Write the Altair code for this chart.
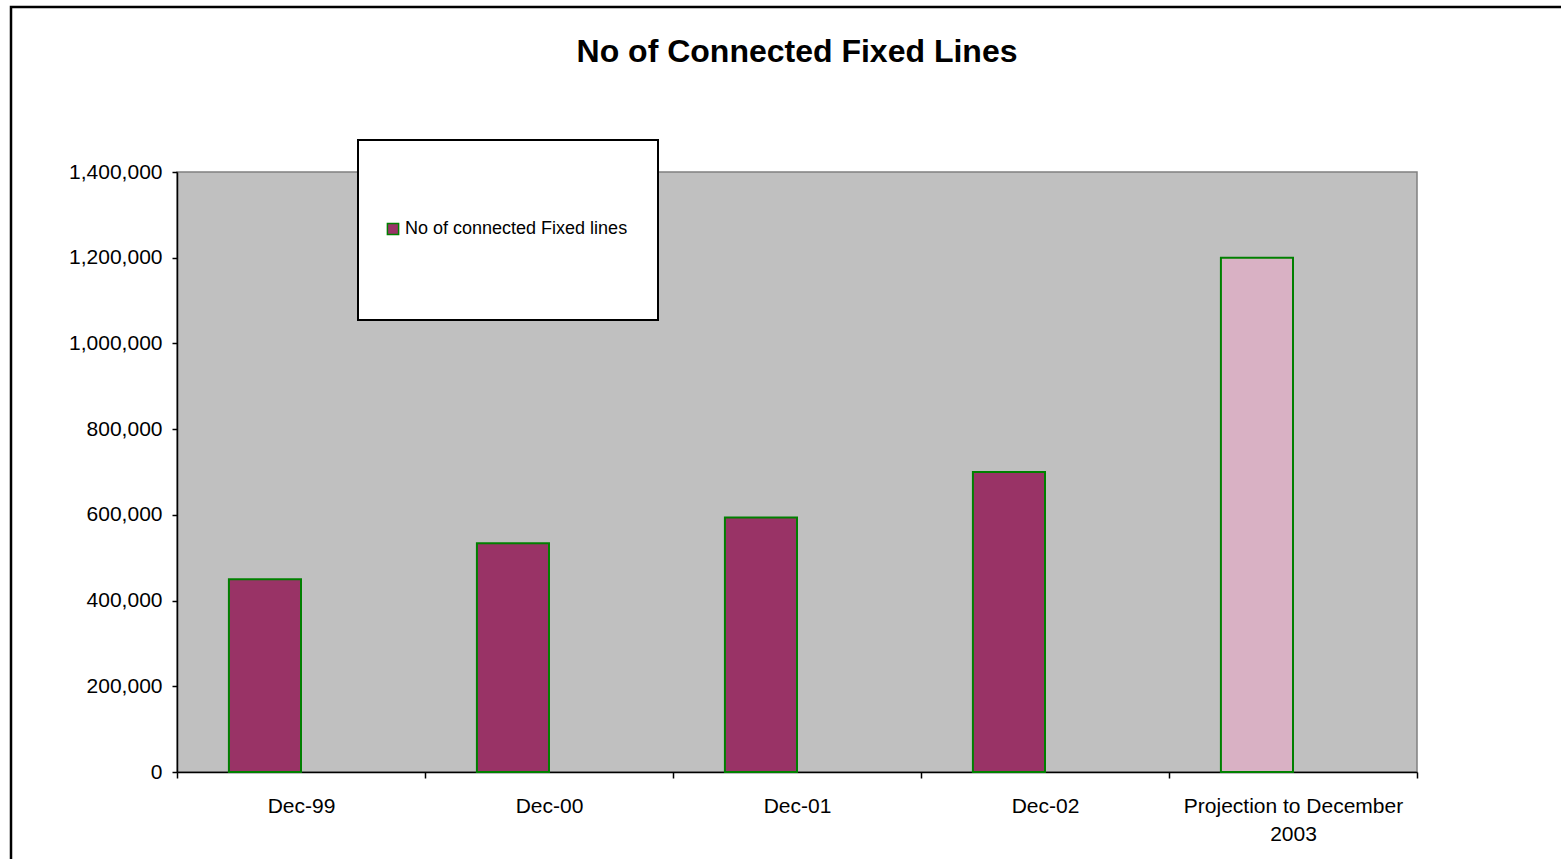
import altair as alt
import pandas as pd

categories = ["Dec-99", "Dec-00", "Dec-01", "Dec-02", "Projection to December 2003"]
values = [450000, 534000, 594000, 700000, 1200000]
series = ["No of connected Fixed lines"] * 4 + ["Projection"]
slot = ["s1"] * 5
y_ticks = [0, 200000, 400000, 600000, 800000, 1000000, 1200000, 1400000]

df = pd.DataFrame({"category": categories, "value": values, "series": series, "slot": slot})

FONT = "Liberation Sans"

bars = alt.Chart(df).mark_bar(stroke="#008000", strokeWidth=2).encode(
    x=alt.X(
        "category:N",
        sort=categories,
        scale=alt.Scale(paddingInner=0, paddingOuter=0),
        axis=alt.Axis(
            title=None, labelAngle=0, tickBand="extent", tickSize=6, tickWidth=1.5,
            domainWidth=1.5, domainColor="black", tickColor="black",
            labelPadding=17, labelFontSize=21, labelLineHeight=28, labelFont=FONT,
            labelColor="black", labelLimit=500, labelOverlap=False,
            labelExpr="datum.label == 'Projection to December 2003' ? ['Projection to December', '2003'] : datum.label",
        ),
    ),
    xOffset=alt.XOffset(
        "slot:N", scale=alt.Scale(domain=["s1", "s2"], paddingInner=0, paddingOuter=0.72)
    ),
    y=alt.Y(
        "value:Q",
        scale=alt.Scale(domain=[0, 1400000], nice=False),
        axis=alt.Axis(
            title=None, values=y_ticks, format=",d", grid=False, tickSize=5, tickWidth=1.5,
            domainWidth=1.5, domainColor="black", tickColor="black",
            labelPadding=10, labelFontSize=21, labelFont=FONT, labelColor="black",
        ),
    ),
    color=alt.Color(
        "series:N",
        scale=alt.Scale(domain=["No of connected Fixed lines", "Projection"],
                        range=["#993366", "#D9B1C4"]),
        legend=alt.Legend(
            values=["No of connected Fixed lines"], title=None, orient="none",
            legendX=207, legendY=48, padding=0, symbolType="square", symbolSize=125,
            symbolStrokeColor="#008000", symbolStrokeWidth=1.5, labelFontSize=18,
            labelFont=FONT, labelColor="black", labelOffset=3, labelLimit=400,
        ),
    ),
)

legend_box = alt.Chart(alt.Data(values=[{}])).mark_rect(
    fill="white", stroke="black", strokeWidth=2
).encode(x=alt.value(181), x2=alt.value(481), y=alt.value(-32), y2=alt.value(148))

frame = alt.Chart(alt.Data(values=[{}])).mark_rect(
    filled=False, stroke="black", strokeWidth=2.5
).encode(x=alt.value(-166), x2=alt.value(1430), y=alt.value(-165), y2=alt.value(720))

chart = alt.layer(frame, bars, legend_box).properties(
    width=1240,
    height=600,
    title=alt.TitleParams(
        "No of Connected Fixed Lines", fontSize=32, fontWeight="bold", font=FONT,
        anchor="middle", frame="group", color="black", baseline="alphabetic", offset=-88,
    ),
    autosize=alt.AutoSizeParams(type="none"),
    padding={"left": 177, "top": 172, "right": 144, "bottom": 87},
    background="white",
).configure_view(fill="#C0C0C0", stroke="#808080", strokeWidth=1.5)

chart.save("out.html", embed_options={"renderer": "svg", "actions": False})
